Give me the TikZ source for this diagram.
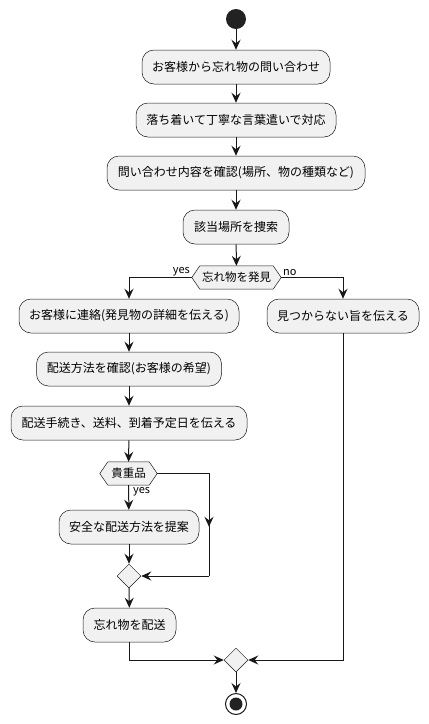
\documentclass[tikz,border=0pt]{standalone}
\usepackage{fontspec}
\setmainfont{Noto Sans CJK JP}
\usetikzlibrary{arrows.meta,shapes.geometric,calc}
\definecolor{boxfill}{HTML}{F1F1F1}
\definecolor{ln}{HTML}{181818}
\definecolor{startc}{HTML}{222222}
\tikzset{
  act/.style={draw=ln, line width=0.5pt, fill=boxfill, rounded corners=12pt, minimum height=34pt, inner sep=0pt, font=\fontsize{12}{14}\selectfont},
  hexlbl/.style={inner sep=0pt, minimum height=23pt, font=\fontsize{11.5}{13}\selectfont},
  hexshape/.style={draw=ln, line width=0.5pt, fill=boxfill},
  mrg/.style={diamond, draw=ln, line width=0.5pt, fill=boxfill, inner sep=0pt, minimum width=24pt, minimum height=24pt},
  flow/.style={draw=ln, line width=1pt, -{Stealth[length=10pt,width=9pt,inset=3.5pt]}},
  plain/.style={draw=ln, line width=1pt},
  lbl/.style={inner sep=0pt, font=\fontsize{11}{13}\selectfont}
}
\begin{document}
\begin{tikzpicture}[x=1pt,y=-1pt]
\useasboundingbox (0,0) rectangle (429,724);
\fill[white] (0,0) rectangle (429,724);

\node[circle, fill=startc, minimum size=20pt, inner sep=0pt] (start) at (236,19) {};
\node[act, minimum width=188pt] (a1) at (236,67) {お客様から忘れ物の問い合わせ};
\node[act, minimum width=200pt] (a2) at (236,120) {落ち着いて丁寧な言葉遣いで対応};
\node[act, minimum width=258pt] (a3) at (236,173) {問い合わせ内容を確認(場所、物の種類など)};
\node[act, minimum width=106pt] (a4) at (236,227) {該当場所を捜索};

% decision 1
\node[hexlbl, minimum width=89pt] (d1) at (236.5,277.5) {};
\draw[hexshape] (d1.west) -- ([xshift=8pt]d1.north west) -- ([xshift=-8pt]d1.north east) -- (d1.east) -- ([xshift=-8pt]d1.south east) -- ([xshift=8pt]d1.south west) -- cycle;
\node[hexlbl] at (d1) {忘れ物を発見};
\node[lbl, anchor=south east] (ly1) at (190,276) {yes};
\node[lbl, anchor=south west] (ln1) at (283,276) {no};

\node[act, minimum width=220pt] (a5) at (129,316) {お客様に連絡(発見物の詳細を伝える)};
\node[act, minimum width=152pt] (b1) at (343,316) {見つからない旨を伝える};
\node[act, minimum width=185pt] (a6) at (129,369) {配送方法を確認(お客様の希望)};
\node[act, minimum width=236pt] (a7) at (129,423) {配送手続き、送料、到着予定日を伝える};

% decision 2
\node[hexlbl, minimum width=57pt] (d2) at (128.5,473.5) {};
\draw[hexshape] (d2.west) -- ([xshift=8pt]d2.north west) -- ([xshift=-8pt]d2.north east) -- (d2.east) -- ([xshift=-8pt]d2.south east) -- ([xshift=8pt]d2.south west) -- cycle;
\node[hexlbl] at (d2) {貴重品};
\node[lbl, anchor=west] (ly2) at (133,492) {yes};

\node[act, minimum width=140pt] (a8) at (129,527) {安全な配送方法を提案};
\node[mrg] (m1) at (129,576) {};
\node[act, minimum width=93pt] (a9) at (129.5,625) {忘れ物を配送};
\node[mrg] (m2) at (236,660) {};

\node[circle, draw=ln, line width=1pt, fill=white, minimum size=21pt, inner sep=0pt] (end) at (236,704) {};
\node[circle, fill=startc, minimum size=13pt, inner sep=0pt] at (end) {};

% connectors
\draw[flow] (start) -- (a1);
\draw[flow] (a1) -- (a2);
\draw[flow] (a2) -- (a3);
\draw[flow] (a3) -- (a4);
\draw[flow] (a4) -- (d1);
\draw[flow] (d1.west) -| (a5.north);
\draw[flow] (d1.east) -| (b1.north);
\draw[flow] (a5) -- (a6);
\draw[flow] (a6) -- (a7);
\draw[flow] (a7) -- (d2);
\draw[flow] (d2) -- (a8);
\draw[flow] (a8) -- (m1);
\coordinate (r1) at (209,473.5);
\coordinate (r2) at (209,576);
\draw[plain] (d2.east) -- (r1) -- (r2);
\draw[flow] (r1) -- ($(r1)!0.52!(r2)$);
\draw[flow] (r2) -- (m1.east);
\draw[flow] (m1) -- (a9);
\draw[flow] (a9.south) |- (m2.west);
\draw[flow] (b1.south) |- (m2.east);
\draw[flow] (m2) -- (end);
\end{tikzpicture}
\end{document}
